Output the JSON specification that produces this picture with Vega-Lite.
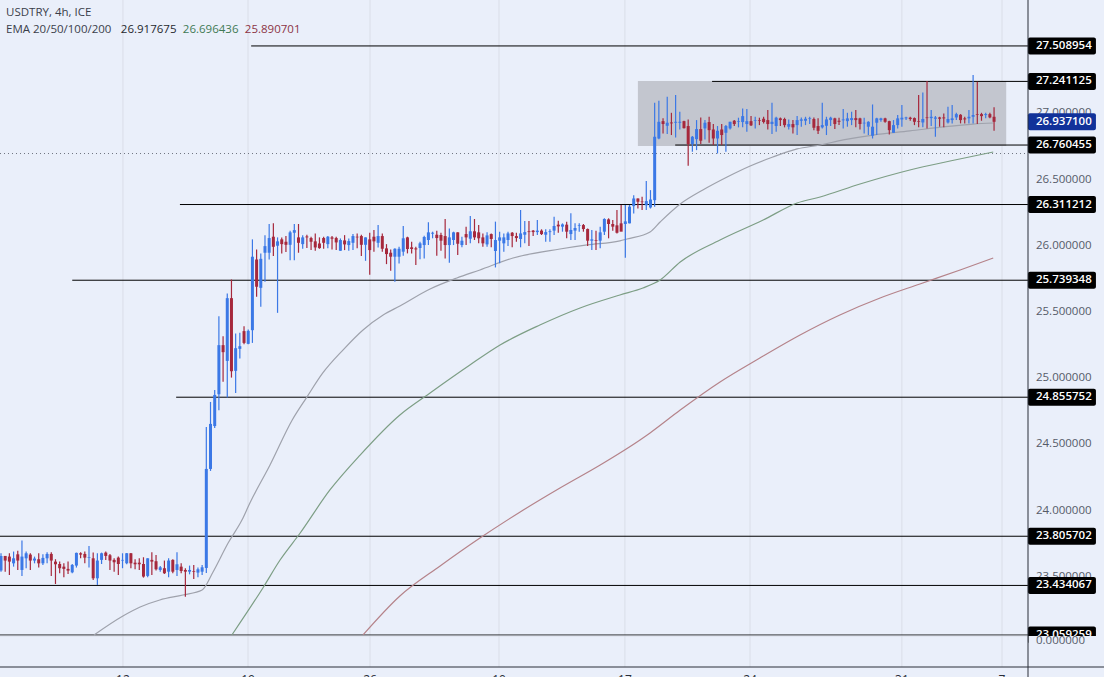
{
  "$schema": "https://vega.github.io/schema/vega-lite/v6.json",
  "width": 1028,
  "height": 667,
  "autosize": "none",
  "padding": {"left": 0, "top": 0, "right": 76, "bottom": 10},
  "background": "#eaeffa",
  "config": {"view": {"stroke": null}, "text": {"font": "Open Sans"}, "scale": {"continuousPadding": 0}},
  "datasets": {
    "candles": [
      {"i":0,"h":23.677,"l":23.538,"o":23.546,"c":23.657},{"i":1,"h":23.657,"l":23.538,"o":23.657,"c":23.622},{"i":2,"h":23.677,"l":23.513,"o":23.652,"c":23.614},{"i":3,"h":23.690,"l":23.576,"o":23.601,"c":23.639},{"i":4,"h":23.697,"l":23.551,"o":23.669,"c":23.622},
      {"i":5,"h":23.773,"l":23.506,"o":23.551,"c":23.652},{"i":6,"h":23.690,"l":23.564,"o":23.639,"c":23.677},{"i":7,"h":23.677,"l":23.551,"o":23.667,"c":23.622},{"i":8,"h":23.652,"l":23.601,"o":23.622,"c":23.637},{"i":9,"h":23.677,"l":23.569,"o":23.632,"c":23.601},
      {"i":10,"h":23.669,"l":23.589,"o":23.601,"c":23.642},{"i":11,"h":23.685,"l":23.601,"o":23.639,"c":23.672},{"i":12,"h":23.685,"l":23.506,"o":23.672,"c":23.622},{"i":13,"h":23.632,"l":23.445,"o":23.614,"c":23.594},{"i":14,"h":23.614,"l":23.526,"o":23.596,"c":23.564},
      {"i":15,"h":23.601,"l":23.496,"o":23.576,"c":23.559},{"i":16,"h":23.614,"l":23.521,"o":23.559,"c":23.546},{"i":17,"h":23.596,"l":23.526,"o":23.533,"c":23.589},{"i":18,"h":23.682,"l":23.569,"o":23.584,"c":23.680},{"i":19,"h":23.685,"l":23.639,"o":23.677,"c":23.667},
      {"i":20,"h":23.690,"l":23.601,"o":23.672,"c":23.644},{"i":21,"h":23.732,"l":23.569,"o":23.642,"c":23.647},{"i":22,"h":23.682,"l":23.475,"o":23.639,"c":23.488},{"i":23,"h":23.677,"l":23.438,"o":23.488,"c":23.622},{"i":24,"h":23.682,"l":23.596,"o":23.627,"c":23.677},
      {"i":25,"h":23.690,"l":23.627,"o":23.682,"c":23.657},{"i":26,"h":23.672,"l":23.551,"o":23.662,"c":23.622},{"i":27,"h":23.639,"l":23.538,"o":23.627,"c":23.609},{"i":28,"h":23.652,"l":23.513,"o":23.644,"c":23.596},{"i":29,"h":23.677,"l":23.564,"o":23.622,"c":23.627},
      {"i":30,"h":23.680,"l":23.594,"o":23.601,"c":23.677},{"i":31,"h":23.680,"l":23.564,"o":23.677,"c":23.601},{"i":32,"h":23.632,"l":23.556,"o":23.606,"c":23.594},{"i":33,"h":23.639,"l":23.551,"o":23.606,"c":23.594},{"i":34,"h":23.647,"l":23.493,"o":23.596,"c":23.501},
      {"i":35,"h":23.639,"l":23.496,"o":23.506,"c":23.639},{"i":36,"h":23.685,"l":23.513,"o":23.627,"c":23.614},{"i":37,"h":23.664,"l":23.546,"o":23.617,"c":23.556},{"i":38,"h":23.581,"l":23.538,"o":23.551,"c":23.571},{"i":39,"h":23.622,"l":23.521,"o":23.564,"c":23.526},
      {"i":40,"h":23.639,"l":23.496,"o":23.538,"c":23.622},{"i":41,"h":23.632,"l":23.526,"o":23.627,"c":23.538},{"i":42,"h":23.685,"l":23.506,"o":23.551,"c":23.594},{"i":43,"h":23.601,"l":23.526,"o":23.576,"c":23.543},{"i":44,"h":23.564,"l":23.349,"o":23.551,"c":23.538},
      {"i":45,"h":23.584,"l":23.518,"o":23.538,"c":23.551},{"i":46,"h":23.589,"l":23.483,"o":23.543,"c":23.538},{"i":47,"h":23.569,"l":23.496,"o":23.531,"c":23.556},{"i":48,"h":23.589,"l":23.513,"o":23.538,"c":23.571},{"i":49,"h":24.631,"l":23.528,"o":23.566,"c":24.314},
      {"i":50,"h":24.820,"l":24.299,"o":24.314,"c":24.654},{"i":51,"h":24.910,"l":24.623,"o":24.638,"c":24.873},{"i":52,"h":25.468,"l":24.757,"o":24.878,"c":25.249},{"i":53,"h":25.317,"l":24.972,"o":25.249,"c":25.196},{"i":54,"h":25.639,"l":24.853,"o":25.130,"c":25.604},
      {"i":55,"h":25.745,"l":25.004,"o":25.604,"c":25.052},{"i":56,"h":25.337,"l":24.888,"o":25.055,"c":25.226},{"i":57,"h":25.342,"l":25.148,"o":25.221,"c":25.241},{"i":58,"h":25.392,"l":25.256,"o":25.355,"c":25.266},{"i":59,"h":25.367,"l":25.256,"o":25.259,"c":25.357},
      {"i":60,"h":26.048,"l":25.266,"o":25.362,"c":25.917},{"i":61,"h":25.972,"l":25.614,"o":25.896,"c":25.690},{"i":62,"h":25.942,"l":25.539,"o":25.682,"c":25.901},{"i":63,"h":26.080,"l":25.728,"o":25.947,"c":25.997},{"i":64,"h":26.164,"l":25.896,"o":25.947,"c":26.058},
      {"i":65,"h":26.169,"l":25.922,"o":26.068,"c":25.992},{"i":66,"h":26.063,"l":25.493,"o":26.000,"c":26.033},{"i":67,"h":26.063,"l":25.942,"o":26.048,"c":26.012},{"i":68,"h":26.073,"l":25.952,"o":26.030,"c":26.007},{"i":69,"h":26.113,"l":25.891,"o":26.007,"c":26.101},
      {"i":70,"h":26.164,"l":25.891,"o":26.098,"c":26.118},{"i":71,"h":26.164,"l":25.947,"o":26.063,"c":26.022},{"i":72,"h":26.080,"l":25.977,"o":26.012,"c":26.063},{"i":73,"h":26.083,"l":25.982,"o":26.070,"c":26.063},{"i":74,"h":26.068,"l":25.967,"o":26.058,"c":26.030},
      {"i":75,"h":26.093,"l":25.962,"o":26.033,"c":25.987},{"i":76,"h":26.063,"l":25.977,"o":26.017,"c":25.982},{"i":77,"h":26.068,"l":25.977,"o":26.058,"c":26.022},{"i":78,"h":26.073,"l":25.980,"o":26.012,"c":26.068},{"i":79,"h":26.073,"l":25.972,"o":26.063,"c":26.053},
      {"i":80,"h":26.068,"l":25.967,"o":26.058,"c":26.025},{"i":81,"h":26.055,"l":25.962,"o":25.962,"c":26.043},{"i":82,"h":26.080,"l":25.967,"o":26.040,"c":26.010},{"i":83,"h":26.055,"l":25.962,"o":26.005,"c":26.035},{"i":84,"h":26.088,"l":25.967,"o":26.022,"c":26.073},
      {"i":85,"h":26.093,"l":25.980,"o":26.068,"c":26.063},{"i":86,"h":26.083,"l":25.922,"o":26.073,"c":26.007},{"i":87,"h":26.063,"l":25.886,"o":26.007,"c":26.063},{"i":88,"h":26.098,"l":25.781,"o":26.048,"c":25.967},{"i":89,"h":26.118,"l":25.954,"o":26.068,"c":26.033},
      {"i":90,"h":26.156,"l":25.987,"o":26.022,"c":26.073},{"i":91,"h":26.093,"l":25.954,"o":26.073,"c":25.977},{"i":92,"h":26.012,"l":25.861,"o":25.980,"c":25.937},{"i":93,"h":25.972,"l":25.811,"o":25.947,"c":25.917},{"i":94,"h":25.980,"l":25.728,"o":25.917,"c":25.977},
      {"i":95,"h":25.992,"l":25.866,"o":25.917,"c":25.977},{"i":96,"h":26.149,"l":25.925,"o":25.955,"c":26.056},{"i":97,"h":26.068,"l":25.942,"o":26.063,"c":25.975},{"i":98,"h":26.030,"l":25.942,"o":25.988,"c":25.975},{"i":99,"h":25.993,"l":25.854,"o":25.980,"c":25.972},
      {"i":100,"h":26.030,"l":25.897,"o":25.983,"c":26.018},{"i":101,"h":26.076,"l":25.904,"o":26.005,"c":26.066},{"i":102,"h":26.177,"l":26.005,"o":26.043,"c":26.101},{"i":103,"h":26.106,"l":26.056,"o":26.091,"c":26.098},{"i":104,"h":26.114,"l":25.925,"o":26.083,"c":26.058},
      {"i":105,"h":26.098,"l":25.962,"o":26.081,"c":26.038},{"i":106,"h":26.202,"l":25.904,"o":26.073,"c":26.005},{"i":107,"h":26.131,"l":25.872,"o":26.005,"c":26.063},{"i":108,"h":26.106,"l":26.005,"o":26.043,"c":26.101},{"i":109,"h":26.101,"l":25.930,"o":26.101,"c":26.015},
      {"i":110,"h":26.068,"l":25.988,"o":26.005,"c":26.038},{"i":111,"h":26.144,"l":26.005,"o":26.088,"c":26.063},{"i":112,"h":26.224,"l":26.018,"o":26.053,"c":26.109},{"i":113,"h":26.202,"l":26.043,"o":26.109,"c":26.063},{"i":114,"h":26.156,"l":26.018,"o":26.101,"c":26.056},
      {"i":115,"h":26.093,"l":25.993,"o":26.063,"c":26.018},{"i":116,"h":26.101,"l":25.993,"o":26.010,"c":26.078},{"i":117,"h":26.093,"l":25.988,"o":26.088,"c":26.051},{"i":118,"h":26.182,"l":25.836,"o":25.960,"c":26.043},{"i":119,"h":26.106,"l":25.867,"o":26.038,"c":26.063},
      {"i":120,"h":26.093,"l":25.955,"o":26.018,"c":26.063},{"i":121,"h":26.106,"l":25.998,"o":26.043,"c":26.093},{"i":122,"h":26.103,"l":25.988,"o":26.098,"c":26.073},{"i":123,"h":26.098,"l":26.030,"o":26.073,"c":26.058},{"i":124,"h":26.270,"l":25.988,"o":26.051,"c":26.093},
      {"i":125,"h":26.187,"l":26.018,"o":26.083,"c":26.103},{"i":126,"h":26.187,"l":25.998,"o":26.109,"c":26.103},{"i":127,"h":26.119,"l":26.073,"o":26.114,"c":26.103},{"i":128,"h":26.194,"l":26.081,"o":26.103,"c":26.114},{"i":129,"h":26.124,"l":26.081,"o":26.114,"c":26.088},
      {"i":130,"h":26.124,"l":26.030,"o":26.083,"c":26.103},{"i":131,"h":26.124,"l":26.030,"o":26.103,"c":26.109},{"i":132,"h":26.219,"l":26.081,"o":26.114,"c":26.149},{"i":133,"h":26.189,"l":26.098,"o":26.159,"c":26.146},{"i":134,"h":26.169,"l":26.106,"o":26.144,"c":26.161},
      {"i":135,"h":26.182,"l":26.056,"o":26.159,"c":26.106},{"i":136,"h":26.245,"l":26.043,"o":26.088,"c":26.119},{"i":137,"h":26.169,"l":26.043,"o":26.114,"c":26.134},{"i":138,"h":26.169,"l":26.106,"o":26.151,"c":26.156},{"i":139,"h":26.164,"l":26.106,"o":26.156,"c":26.126},
      {"i":140,"h":26.131,"l":25.998,"o":26.126,"c":26.038},{"i":141,"h":26.119,"l":25.967,"o":26.038,"c":26.048},{"i":142,"h":26.114,"l":25.967,"o":26.043,"c":26.038},{"i":143,"h":26.144,"l":25.980,"o":26.038,"c":26.101},{"i":144,"h":26.207,"l":26.081,"o":26.106,"c":26.202},
      {"i":145,"h":26.207,"l":26.056,"o":26.199,"c":26.164},{"i":146,"h":26.194,"l":26.114,"o":26.164,"c":26.144},{"i":147,"h":26.270,"l":26.093,"o":26.154,"c":26.098},{"i":148,"h":26.308,"l":26.114,"o":26.169,"c":26.106},{"i":149,"h":26.308,"l":25.909,"o":26.164,"c":26.184},
      {"i":150,"h":26.308,"l":26.169,"o":26.169,"c":26.295},{"i":151,"h":26.382,"l":26.243,"o":26.299,"c":26.357},{"i":152,"h":26.357,"l":26.281,"o":26.357,"c":26.332},{"i":153,"h":26.369,"l":26.269,"o":26.334,"c":26.329},{"i":154,"h":26.488,"l":26.269,"o":26.306,"c":26.337},
      {"i":155,"h":26.420,"l":26.281,"o":26.289,"c":26.349},{"i":156,"h":27.080,"l":26.294,"o":26.344,"c":26.823},{"i":157,"h":27.095,"l":26.805,"o":26.810,"c":26.936},{"i":158,"h":26.962,"l":26.848,"o":26.941,"c":26.919},{"i":159,"h":27.125,"l":26.843,"o":26.906,"c":26.929},
      {"i":160,"h":27.004,"l":26.836,"o":26.931,"c":26.924},{"i":161,"h":27.138,"l":26.818,"o":26.929,"c":26.936},{"i":162,"h":27.012,"l":26.878,"o":26.929,"c":26.936},{"i":163,"h":26.944,"l":26.886,"o":26.941,"c":26.888},{"i":164,"h":26.954,"l":26.604,"o":26.904,"c":26.768},
      {"i":165,"h":26.828,"l":26.710,"o":26.768,"c":26.823},{"i":166,"h":26.949,"l":26.722,"o":26.805,"c":26.881},{"i":167,"h":26.969,"l":26.768,"o":26.881,"c":26.793},{"i":168,"h":26.949,"l":26.803,"o":26.886,"c":26.929},{"i":169,"h":26.974,"l":26.778,"o":26.934,"c":26.873},
      {"i":170,"h":26.919,"l":26.760,"o":26.878,"c":26.810},{"i":171,"h":26.904,"l":26.697,"o":26.810,"c":26.868},{"i":172,"h":26.919,"l":26.760,"o":26.878,"c":26.836},{"i":173,"h":26.911,"l":26.710,"o":26.853,"c":26.904},{"i":174,"h":26.936,"l":26.878,"o":26.886,"c":26.936},
      {"i":175,"h":26.949,"l":26.904,"o":26.944,"c":26.919},{"i":176,"h":26.967,"l":26.894,"o":26.936,"c":26.941},{"i":177,"h":27.037,"l":26.894,"o":26.934,"c":26.979},{"i":178,"h":27.032,"l":26.861,"o":26.919,"c":26.941},{"i":179,"h":26.979,"l":26.904,"o":26.941,"c":26.909},
      {"i":180,"h":26.974,"l":26.886,"o":26.944,"c":26.949},{"i":181,"h":26.967,"l":26.911,"o":26.949,"c":26.944},{"i":182,"h":26.974,"l":26.924,"o":26.959,"c":26.934},{"i":183,"h":27.025,"l":26.878,"o":26.949,"c":26.919},{"i":184,"h":27.080,"l":26.843,"o":26.919,"c":26.936},
      {"i":185,"h":26.974,"l":26.861,"o":26.904,"c":26.967},{"i":186,"h":26.969,"l":26.904,"o":26.962,"c":26.949},{"i":187,"h":26.967,"l":26.894,"o":26.957,"c":26.911},{"i":188,"h":26.954,"l":26.878,"o":26.899,"c":26.919},{"i":189,"h":26.949,"l":26.848,"o":26.919,"c":26.894},
      {"i":190,"h":26.979,"l":26.836,"o":26.911,"c":26.949},{"i":191,"h":26.969,"l":26.899,"o":26.944,"c":26.954},{"i":192,"h":26.974,"l":26.911,"o":26.944,"c":26.959},{"i":193,"h":26.974,"l":26.919,"o":26.957,"c":26.962},{"i":194,"h":26.969,"l":26.873,"o":26.957,"c":26.891},
      {"i":195,"h":26.962,"l":26.843,"o":26.904,"c":26.868},{"i":196,"h":27.080,"l":26.886,"o":26.894,"c":26.911},{"i":197,"h":26.974,"l":26.836,"o":26.906,"c":26.954},{"i":198,"h":26.974,"l":26.904,"o":26.949,"c":26.967},{"i":199,"h":26.967,"l":26.881,"o":26.962,"c":26.919},
      {"i":200,"h":26.967,"l":26.911,"o":26.944,"c":26.936},{"i":201,"h":27.032,"l":26.886,"o":26.947,"c":26.954},{"i":202,"h":27.004,"l":26.899,"o":26.941,"c":26.962},{"i":203,"h":27.012,"l":26.911,"o":26.949,"c":26.964},{"i":204,"h":27.025,"l":26.894,"o":26.964,"c":26.949},
      {"i":205,"h":26.967,"l":26.878,"o":26.962,"c":26.919},{"i":206,"h":26.967,"l":26.848,"o":26.924,"c":26.929},{"i":207,"h":26.941,"l":26.836,"o":26.899,"c":26.936},{"i":208,"h":27.067,"l":26.810,"o":26.831,"c":26.899},{"i":209,"h":26.967,"l":26.836,"o":26.929,"c":26.962},
      {"i":210,"h":26.967,"l":26.936,"o":26.949,"c":26.962},{"i":211,"h":26.967,"l":26.929,"o":26.962,"c":26.936},{"i":212,"h":26.944,"l":26.841,"o":26.941,"c":26.873},{"i":213,"h":26.949,"l":26.853,"o":26.853,"c":26.911},{"i":214,"h":26.987,"l":26.886,"o":26.911,"c":26.962},
      {"i":215,"h":27.062,"l":26.899,"o":26.954,"c":26.967},{"i":216,"h":26.974,"l":26.949,"o":26.962,"c":26.969},{"i":217,"h":26.974,"l":26.944,"o":26.967,"c":26.957},{"i":218,"h":26.969,"l":26.911,"o":26.964,"c":26.936},{"i":219,"h":27.138,"l":26.894,"o":26.941,"c":26.936},
      {"i":220,"h":27.158,"l":26.894,"o":26.931,"c":26.957},{"i":221,"h":27.244,"l":26.886,"o":26.969,"c":26.964},{"i":222,"h":27.025,"l":26.904,"o":26.964,"c":26.974},{"i":223,"h":26.979,"l":26.823,"o":26.959,"c":26.969},{"i":224,"h":26.974,"l":26.899,"o":26.969,"c":26.959},
      {"i":225,"h":26.999,"l":26.894,"o":26.969,"c":26.962},{"i":226,"h":27.050,"l":26.924,"o":26.931,"c":26.957},{"i":227,"h":27.062,"l":26.924,"o":26.949,"c":26.962},{"i":228,"h":27.004,"l":26.949,"o":26.969,"c":26.994},{"i":229,"h":26.994,"l":26.924,"o":26.989,"c":26.949},
      {"i":230,"h":26.974,"l":26.924,"o":26.962,"c":26.954},{"i":231,"h":27.025,"l":26.924,"o":26.962,"c":26.974},{"i":232,"h":27.289,"l":26.924,"o":26.974,"c":26.987},{"i":233,"h":27.239,"l":26.919,"o":26.994,"c":26.989},{"i":234,"h":27.004,"l":26.944,"o":26.994,"c":26.979},
      {"i":235,"h":27.004,"l":26.962,"o":26.987,"c":26.994},{"i":236,"h":27.004,"l":26.962,"o":26.994,"c":26.969},{"i":237,"h":27.045,"l":26.868,"o":26.974,"c":26.936}
    ],
    "ema": [
      {"s":"ema20","i":22.2,"p":23.060},{"s":"ema20","i":29.1,"p":23.203},{"s":"ema20","i":33.2,"p":23.271},{"s":"ema20","i":37.9,"p":23.324},{"s":"ema20","i":43.4,"p":23.362},{"s":"ema20","i":48.0,"p":23.400},{"s":"ema20","i":50.6,"p":23.536},{"s":"ema20","i":54.2,"p":23.755},{"s":"ema20","i":57.5,"p":23.928},{"s":"ema20","i":59.4,"p":24.057},{"s":"ema20","i":64.2,"p":24.344},{"s":"ema20","i":69.5,"p":24.684},{"s":"ema20","i":73.0,"p":24.857},{"s":"ema20","i":76.8,"p":25.039},{"s":"ema20","i":81.6,"p":25.212},{"s":"ema20","i":86.4,"p":25.364},{"s":"ema20","i":91.2,"p":25.477},{"s":"ema20","i":95.2,"p":25.545},{"s":"ema20","i":102.4,"p":25.673},{"s":"ema20","i":108.8,"p":25.756},{"s":"ema20","i":114.3,"p":25.817},{"s":"ema20","i":122.2,"p":25.907},{"s":"ema20","i":133.4,"p":25.975},{"s":"ema20","i":139.9,"p":26.006},{"s":"ema20","i":147.7,"p":26.036},{"s":"ema20","i":149.4,"p":26.051},{"s":"ema20","i":154.9,"p":26.104},{"s":"ema20","i":157.3,"p":26.179},{"s":"ema20","i":162.1,"p":26.315},{"s":"ema20","i":167.5,"p":26.421},{"s":"ema20","i":173.3,"p":26.519},{"s":"ema20","i":178.8,"p":26.602},{"s":"ema20","i":184.2,"p":26.670},{"s":"ema20","i":190.0,"p":26.731},{"s":"ema20","i":195.5,"p":26.761},{"s":"ema20","i":201.0,"p":26.799},{"s":"ema20","i":208.1,"p":26.836},{"s":"ema20","i":216.9,"p":26.867},{"s":"ema20","i":224.8,"p":26.897},{"s":"ema20","i":232.0,"p":26.919},{"s":"ema20","i":236.8,"p":26.927},
      {"s":"ema50","i":55.1,"p":23.060},{"s":"ema50","i":62.5,"p":23.415},{"s":"ema50","i":66.6,"p":23.626},{"s":"ema50","i":71.4,"p":23.830},{"s":"ema50","i":78.5,"p":24.155},{"s":"ema50","i":85.7,"p":24.419},{"s":"ema50","i":95.2,"p":24.722},{"s":"ema50","i":102.4,"p":24.888},{"s":"ema50","i":111.9,"p":25.099},{"s":"ema50","i":119.1,"p":25.250},{"s":"ema50","i":128.6,"p":25.401},{"s":"ema50","i":138.2,"p":25.530},{"s":"ema50","i":147.7,"p":25.628},{"s":"ema50","i":153.2,"p":25.681},{"s":"ema50","i":157.3,"p":25.741},{"s":"ema50","i":162.1,"p":25.877},{"s":"ema50","i":171.6,"p":26.043},{"s":"ema50","i":181.9,"p":26.194},{"s":"ema50","i":190.0,"p":26.323},{"s":"ema50","i":195.5,"p":26.368},{"s":"ema50","i":205.0,"p":26.466},{"s":"ema50","i":216.9,"p":26.572},{"s":"ema50","i":226.5,"p":26.640},{"s":"ema50","i":236.8,"p":26.708},
      {"s":"ema100","i":86.4,"p":23.060},{"s":"ema100","i":95.2,"p":23.354},{"s":"ema100","i":104.8,"p":23.581},{"s":"ema100","i":114.3,"p":23.792},{"s":"ema100","i":123.9,"p":23.989},{"s":"ema100","i":133.4,"p":24.170},{"s":"ema100","i":143.0,"p":24.344},{"s":"ema100","i":152.5,"p":24.533},{"s":"ema100","i":154.9,"p":24.586},{"s":"ema100","i":162.1,"p":24.759},{"s":"ema100","i":171.6,"p":24.971},{"s":"ema100","i":181.1,"p":25.152},{"s":"ema100","i":190.7,"p":25.326},{"s":"ema100","i":200.2,"p":25.477},{"s":"ema100","i":209.8,"p":25.605},{"s":"ema100","i":219.3,"p":25.711},{"s":"ema100","i":228.9,"p":25.817},{"s":"ema100","i":236.8,"p":25.907}
    ],
    "levels": [
      {"i":59.7,"p":27.508954,"t":"27.508954"},
      {"i":169.7,"p":27.241125,"t":"27.241125"},
      {"i":160.9,"p":26.760455,"t":"26.760455"},
      {"i":42.7,"p":26.311212,"t":"26.311212"},
      {"i":17.0,"p":25.739348,"t":"25.739348"},
      {"i":41.8,"p":24.855752,"t":"24.855752"},
      {"i":-0.24,"p":23.805702,"t":"23.805702"},
      {"i":-0.24,"p":23.434067,"t":"23.434067"},
      {"i":-0.24,"p":23.059259,"t":"23.059259"}
    ],
    "ticks": [
      {"p":27.0,"t":"27.000000"},{"p":26.5,"t":"26.500000"},{"p":26.0,"t":"26.000000"},{"p":25.5,"t":"25.500000"},
      {"p":25.0,"t":"25.000000"},{"p":24.5,"t":"24.500000"},{"p":24.0,"t":"24.000000"},{"p":23.5,"t":"23.500000"}
    ],
    "dates": [
      {"i":29.1,"t":"12"},{"i":58.95,"t":"19"},{"i":88.07,"t":"26"},{"i":118.85,"t":"10"},
      {"i":148.9,"t":"17"},{"i":178.76,"t":"24"},{"i":215.0,"t":"31"},{"i":238.9,"t":"7"}
    ],
    "header": [
      {"i":1.2,"p":27.758,"t":"USDTRY, 4h, ICE","k":"title"},
      {"i":1.2,"p":27.633,"t":"EMA 20/50/100/200","k":"title"},
      {"i":28.6,"p":27.633,"t":"26.917675","k":"ema20"},
      {"i":43.4,"p":27.633,"t":"26.696436","k":"ema50"},
      {"i":58.2,"p":27.633,"t":"25.890701","k":"ema100"}
    ]
  },
  "layer": [
    {
      "data": {"name": "dates"},
      "mark": {"type": "rule", "color": "#dadee8", "strokeWidth": 1},
      "encoding": {
        "x": {"field": "i", "type": "quantitative", "axis": null, "scale": {"domain": [-0.24, 245.1], "nice": false, "zero": false}},
        "y": {"datum": 27.856, "type": "quantitative", "axis": null, "scale": {"domain": [22.818, 27.856], "nice": false, "zero": false}},
        "y2": {"datum": 22.818}
      }
    },
    {
      "data": {"values": [{"i": 152.0, "i2": 239.9, "p": 27.244, "p2": 26.753}]},
      "mark": {"type": "rect", "color": "#c3c6cf"},
      "encoding": {
        "x": {"field": "i", "type": "quantitative", "axis": null, "scale": {"domain": [-0.24, 245.1], "nice": false, "zero": false}},
        "x2": {"field": "i2"},
        "y": {"field": "p", "type": "quantitative", "axis": null, "scale": {"domain": [22.818, 27.856], "nice": false, "zero": false}},
        "y2": {"field": "p2"}
      }
    },
    {
      "data": {"values": [{"p": 26.696436}]},
      "mark": {"type": "rule", "color": "#6f7480", "strokeWidth": 1, "strokeDash": [1, 3]},
      "encoding": {
        "x": {"datum": -0.24, "type": "quantitative", "axis": null, "scale": {"domain": [-0.24, 245.1], "nice": false, "zero": false}},
        "x2": {"datum": 245.1},
        "y": {"field": "p", "type": "quantitative", "axis": null, "scale": {"domain": [22.818, 27.856], "nice": false, "zero": false}}
      }
    },
    {
      "data": {"name": "levels"},
      "mark": {"type": "rule", "color": "#000000", "strokeWidth": 1},
      "encoding": {
        "x": {"field": "i", "type": "quantitative", "axis": null, "scale": {"domain": [-0.24, 245.1], "nice": false, "zero": false}},
        "x2": {"datum": 245.1},
        "y": {"field": "p", "type": "quantitative", "axis": null, "scale": {"domain": [22.818, 27.856], "nice": false, "zero": false}}
      }
    },
    {
      "data": {"name": "ema"},
      "mark": {"type": "line", "strokeWidth": 1.2, "interpolate": "monotone"},
      "encoding": {
        "x": {"field": "i", "type": "quantitative", "axis": null, "scale": {"domain": [-0.24, 245.1], "nice": false, "zero": false}},
        "y": {"field": "p", "type": "quantitative", "axis": null, "scale": {"domain": [22.818, 27.856], "nice": false, "zero": false}},
        "order": {"field": "i"},
        "color": {
          "field": "s",
          "legend": null,
          "scale": {"domain": ["ema20", "ema50", "ema100"], "range": ["#9fa2ac", "#7d9e85", "#b5838a"]}
        }
      }
    },
    {
      "data": {"name": "candles"},
      "mark": {"type": "rule", "strokeWidth": 1.2},
      "encoding": {
        "x": {"field": "i", "type": "quantitative", "axis": null, "scale": {"domain": [-0.24, 245.1], "nice": false, "zero": false}},
        "y": {"field": "h", "type": "quantitative", "axis": null, "scale": {"domain": [22.818, 27.856], "nice": false, "zero": false}},
        "y2": {"field": "l"},
        "color": {"condition": {"test": "datum.c > datum.o", "value": "#3b78e6"}, "value": "#a6283c"}
      }
    },
    {
      "data": {"name": "candles"},
      "mark": {"type": "bar", "size": 3, "orient": "vertical"},
      "encoding": {
        "x": {"field": "i", "type": "quantitative", "axis": null, "scale": {"domain": [-0.24, 245.1], "nice": false, "zero": false}},
        "y": {"field": "o", "type": "quantitative", "axis": null, "scale": {"domain": [22.818, 27.856], "nice": false, "zero": false}},
        "y2": {"field": "c"},
        "color": {"condition": {"test": "datum.c > datum.o", "value": "#3b78e6"}, "value": "#a6283c"}
      }
    },
    {
      "data": {"name": "ticks"},
      "mark": {"type": "text", "align": "left", "baseline": "middle", "fontSize": 11.5, "color": "#555b68"},
      "encoding": {
        "x": {"datum": 247, "type": "quantitative", "axis": null, "scale": {"domain": [-0.24, 245.1], "nice": false, "zero": false}},
        "y": {"field": "p", "type": "quantitative", "axis": null, "scale": {"domain": [22.818, 27.856], "nice": false, "zero": false}},
        "text": {"field": "t"}
      }
    },
    {
      "data": {"name": "levels"},
      "mark": {"type": "rect", "width": 68, "height": 17, "color": "#000000", "cornerRadius": 2},
      "encoding": {
        "x": {"datum": 253.2, "type": "quantitative", "axis": null, "scale": {"domain": [-0.24, 245.1], "nice": false, "zero": false}},
        "y": {"field": "p", "type": "quantitative", "axis": null, "scale": {"domain": [22.818, 27.856], "nice": false, "zero": false}}
      }
    },
    {
      "data": {"name": "levels"},
      "mark": {"type": "text", "align": "left", "baseline": "middle", "fontSize": 11.5, "fontWeight": 600, "color": "#ffffff"},
      "encoding": {
        "x": {"datum": 247, "type": "quantitative", "axis": null, "scale": {"domain": [-0.24, 245.1], "nice": false, "zero": false}},
        "y": {"field": "p", "type": "quantitative", "axis": null, "scale": {"domain": [22.818, 27.856], "nice": false, "zero": false}},
        "text": {"field": "t"}
      }
    },
    {
      "data": {"values": [{"p": 26.9371, "t": "26.937100"}]},
      "mark": {"type": "rect", "width": 68, "height": 17, "color": "#11329a", "cornerRadius": 2},
      "encoding": {
        "x": {"datum": 253.2, "type": "quantitative", "axis": null, "scale": {"domain": [-0.24, 245.1], "nice": false, "zero": false}},
        "y": {"field": "p", "type": "quantitative", "axis": null, "scale": {"domain": [22.818, 27.856], "nice": false, "zero": false}}
      }
    },
    {
      "data": {"values": [{"p": 26.9371, "t": "26.937100"}]},
      "mark": {"type": "text", "align": "left", "baseline": "middle", "fontSize": 11.5, "fontWeight": 600, "color": "#ffffff"},
      "encoding": {
        "x": {"datum": 247, "type": "quantitative", "axis": null, "scale": {"domain": [-0.24, 245.1], "nice": false, "zero": false}},
        "y": {"field": "p", "type": "quantitative", "axis": null, "scale": {"domain": [22.818, 27.856], "nice": false, "zero": false}},
        "text": {"field": "t"}
      }
    },
    {
      "data": {"values": [{"i": 245.2, "i2": 263.3, "p": 23.052, "p2": 22.818}]},
      "mark": {"type": "rect", "color": "#eaeffa"},
      "encoding": {
        "x": {"field": "i", "type": "quantitative", "axis": null, "scale": {"domain": [-0.24, 245.1], "nice": false, "zero": false}},
        "x2": {"field": "i2"},
        "y": {"field": "p", "type": "quantitative", "axis": null, "scale": {"domain": [22.818, 27.856], "nice": false, "zero": false}},
        "y2": {"field": "p2"}
      }
    },
    {
      "data": {"values": [{"i": -0.24, "i2": 245.1, "p": 23.052}]},
      "mark": {"type": "rule", "color": "#dadee8", "strokeWidth": 1},
      "encoding": {
        "x": {"field": "i", "type": "quantitative", "axis": null, "scale": {"domain": [-0.24, 245.1], "nice": false, "zero": false}},
        "x2": {"field": "i2"},
        "y": {"field": "p", "type": "quantitative", "axis": null, "scale": {"domain": [22.818, 27.856], "nice": false, "zero": false}}
      }
    },
    {
      "data": {"values": [{"p": 23.017, "t": "0.000000"}]},
      "mark": {"type": "text", "align": "left", "baseline": "middle", "fontSize": 11.5, "color": "#555b68"},
      "encoding": {
        "x": {"datum": 247, "type": "quantitative", "axis": null, "scale": {"domain": [-0.24, 245.1], "nice": false, "zero": false}},
        "y": {"field": "p", "type": "quantitative", "axis": null, "scale": {"domain": [22.818, 27.856], "nice": false, "zero": false}},
        "text": {"field": "t"}
      }
    },
    {
      "data": {"values": [{"i": -0.24, "i2": 263.3, "p": 22.818}]},
      "mark": {"type": "rule", "color": "#2a2e39", "strokeWidth": 1},
      "encoding": {
        "x": {"field": "i", "type": "quantitative", "axis": null, "scale": {"domain": [-0.24, 245.1], "nice": false, "zero": false}},
        "x2": {"field": "i2"},
        "y": {"field": "p", "type": "quantitative", "axis": null, "scale": {"domain": [22.818, 27.856], "nice": false, "zero": false}}
      }
    },
    {
      "data": {"values": [{"i": 245.1, "p": 27.856, "p2": 22.74}]},
      "mark": {"type": "rule", "color": "#2a2e39", "strokeWidth": 1},
      "encoding": {
        "x": {"field": "i", "type": "quantitative", "axis": null, "scale": {"domain": [-0.24, 245.1], "nice": false, "zero": false}},
        "y": {"field": "p", "type": "quantitative", "axis": null, "scale": {"domain": [22.818, 27.856], "nice": false, "zero": false}},
        "y2": {"field": "p2"}
      }
    },
    {
      "data": {"name": "dates"},
      "mark": {"type": "text", "align": "center", "baseline": "top", "fontSize": 12, "color": "#2a2e39"},
      "encoding": {
        "x": {"field": "i", "type": "quantitative", "axis": null, "scale": {"domain": [-0.24, 245.1], "nice": false, "zero": false}},
        "y": {"datum": 22.758, "type": "quantitative", "axis": null, "scale": {"domain": [22.818, 27.856], "nice": false, "zero": false}},
        "text": {"field": "t"}
      }
    },
    {
      "data": {"name": "header"},
      "mark": {"type": "text", "align": "left", "baseline": "middle", "fontSize": 11.5},
      "encoding": {
        "x": {"field": "i", "type": "quantitative", "axis": null, "scale": {"domain": [-0.24, 245.1], "nice": false, "zero": false}},
        "y": {"field": "p", "type": "quantitative", "axis": null, "scale": {"domain": [22.818, 27.856], "nice": false, "zero": false}},
        "text": {"field": "t"},
        "color": {
          "field": "k",
          "legend": null,
          "scale": {"domain": ["title", "ema20", "ema50", "ema100"], "range": ["#3a3e4a", "#26282e", "#3f7a55", "#8c3345"]}
        }
      }
    }
  ],
  "resolve": {"scale": {"color": "independent"}}
}
